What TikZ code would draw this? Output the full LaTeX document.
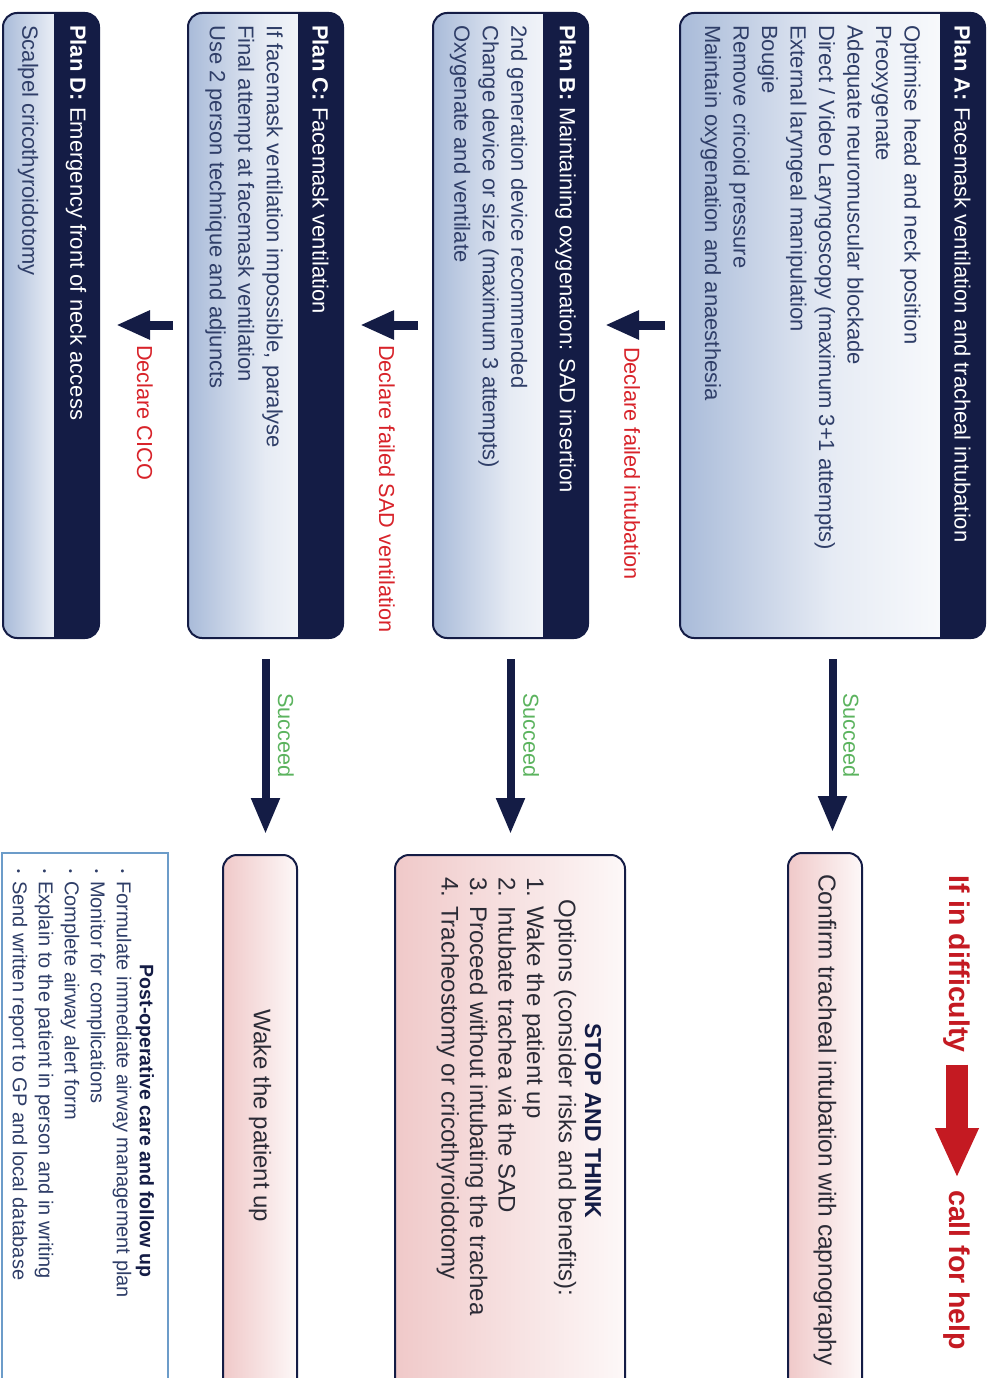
\documentclass[tikz,border=0pt]{standalone}
\usepackage{fontspec}
\setmainfont{Liberation Sans}
\usetikzlibrary{arrows.meta}
\definecolor{navy}{HTML}{141C45}
\definecolor{planblue}{HTML}{A9BBD9}
\definecolor{planmid}{HTML}{E6EBF4}
\definecolor{plantxt}{HTML}{2F3E68}
\definecolor{pinkL}{HTML}{F0C9C9}
\definecolor{pinkR}{HTML}{FDF8F8}
\definecolor{boxtxt}{HTML}{2B2B36}
\definecolor{failred}{HTML}{D8232A}
\definecolor{helpred}{HTML}{C41A22}
\definecolor{succgreen}{HTML}{5BB35E}
\definecolor{poborder}{HTML}{6C9CC9}
\tikzset{
  planframe/.style={draw=navy, line width=2pt, rounded corners=14pt, inner sep=0pt,
    path picture={
      \shade[sharp corners, left color=planblue, right color=white, middle color=planmid]
        (path picture bounding box.south west) rectangle ([xshift=-45pt]path picture bounding box.north east);
      \fill[sharp corners, navy] ([xshift=-45pt]path picture bounding box.south east) rectangle (path picture bounding box.north east);
    }},
  pinkframe/.style={draw=navy, line width=2pt, rounded corners=14pt, inner sep=0pt, left color=pinkL, right color=pinkR},
  poframe/.style={draw=poborder, line width=1.5pt, fill=white, inner sep=0pt},
  vtext/.style={rotate=-90, inner sep=0pt, anchor=west},
  hdr/.style={vtext, text=white, font=\fontsize{22}{26}\selectfont},
  plantext/.style={vtext, text=plantxt, align=left, font=\fontsize{22}{28.5}\selectfont},
  faillab/.style={vtext, text=failred, font=\fontsize{21.7}{26}\selectfont},
  succlab/.style={vtext, text=succgreen, font=\fontsize{21.7}{26}\selectfont},
  helptxt/.style={vtext, text=helpred, font=\bfseries\fontsize{28.5}{32}\selectfont},
  boxtext/.style={rotate=-90, inner sep=0pt, text=boxtxt, font=\fontsize{24}{28.5}\selectfont},
  stoptitle/.style={rotate=-90, inner sep=0pt, text=navy, font=\bfseries\fontsize{23}{26}\selectfont},
  potitle/.style={rotate=-90, inner sep=0pt, text=navy, font=\bfseries\fontsize{19.5}{22}\selectfont},
  poitems/.style={vtext, text=plantxt, align=left, font=\fontsize{20}{26}\selectfont},
  failarr/.style={navy, line width=9pt, -{Triangle[width=27pt,length=34pt]}, shorten <=14pt, shorten >=16pt},
  succarr/.style={navy, line width=8pt, -{Triangle[width=27pt,length=36pt]}, shorten <=20pt, shorten >=20pt},
  helparr/.style={helpred, line width=22pt, -{Triangle[width=40pt,length=50pt]}, shorten <=12pt, shorten >=12pt},
}
\newcommand\pobul{{\raisebox{2pt}{\fontsize{11}{11}\selectfont\textbullet}}\hspace{8pt}}
\begin{document}
\begin{tikzpicture}[x=1pt,y=1pt]
\useasboundingbox (0,0) rectangle (992,-1378);
\clip (0,0) rectangle (992,-1378);
\fill[white] (0,0) rectangle (992,-1378);

% Plan boxes
\node[planframe, minimum width=305pt, minimum height=625pt] (PA) at (832.5,-325.5) {};
\node[hdr] (PAh) at (962.5,-25) {\textbf{Plan A:} Facemask ventilation and tracheal intubation};
\node[plantext] (PAb) at (810.5,-25) {Optimise head and neck position\\Preoxygenate\\Adequate neuromuscular blockade\\Direct / Video Laryngoscopy (maximum 3+1 attempts)\\External laryngeal manipulation\\Bougie\\Remove cricoid pressure\\Maintain oxygenation and anaesthesia};

\node[planframe, minimum width=155pt, minimum height=625pt] (PB) at (510.5,-325.5) {};
\node[hdr] (PBh) at (565.5,-25) {\textbf{Plan B:} Maintaining oxygenation: SAD insertion};
\node[plantext] (PBb) at (488.5,-25) {2nd generation device recommended\\Change device or size (maximum 3 attempts)\\Oxygenate and ventilate};

\node[planframe, minimum width=155pt, minimum height=625pt] (PC) at (265.5,-325.5) {};
\node[hdr] (PCh) at (320.5,-25) {\textbf{Plan C:} Facemask ventilation};
\node[plantext] (PCb) at (244,-25) {If facemask ventilation impossible, paralyse\\Final attempt at facemask ventilation\\Use 2 person technique and adjuncts};

\node[planframe, minimum width=96pt, minimum height=625pt] (PD) at (51,-325.5) {};
\node[hdr] (PDh) at (76,-25) {\textbf{Plan D:} Emergency front of neck access};
\node[plantext] (PDb) at (28,-25) {Scalpel cricothyroidotomy};

% failure arrows
\coordinate (fy) at (0,-325);
\draw[failarr] (PA.west |- fy) -- (PB.east |- fy);
\node[faillab] (L1) at (632,-347) {Declare failed intubation};
\draw[failarr] (PB.west |- fy) -- (PC.east |- fy);
\node[faillab] (L2) at (387,-345) {Declare failed SAD ventilation};
\draw[failarr] (PC.west |- fy) -- (PD.east |- fy);
\node[faillab] (L3) at (145,-345) {Declare CICO};

% right column
\node[pinkframe, minimum width=74pt, minimum height=547pt] (CF) at (825,-1126.5) {};
\node[boxtext, font=\fontsize{24.5}{28.5}\selectfont] (CFt) at (825,-1120) {Confirm tracheal intubation with capnography};

\node[pinkframe, minimum width=230pt, minimum height=545pt] (ST) at (510,-1127.5) {};
\node[stoptitle] (STt) at (593,-1121) {STOP AND THINK};
\node[boxtext] (STo) at (565,-1098) {Options (consider risks and benefits):};
\node[boxtext, anchor=west, align=left] (STl) at (490.5,-877) {1. Wake the patient up\\2. Intubate trachea via the SAD\\3. Proceed without intubating the trachea\\4. Tracheostomy or cricothyroidotomy};

\node[pinkframe, minimum width=74pt, minimum height=545pt] (WK) at (260,-1127.5) {};
\node[boxtext] (WKt) at (260,-1116) {Wake the patient up};

\node[poframe, minimum width=166pt, minimum height=547pt] (PO) at (85,-1126.5) {};
\node[potitle] (POt) at (145,-1121) {Post-operative care and follow up};
\node[poitems] (POi) at (70,-869) {\pobul Formulate immediate airway management plan\\\pobul Monitor for complications\\\pobul Complete airway alert form\\\pobul Explain to the patient in person and in writing\\\pobul Send written report to GP and local database};

% succeed arrows
\draw[succarr] (PA.south) -- (PA.south |- CF.north);
\node[succlab] (S1) at (851,-693) {Succeed};
\draw[succarr] (PB.south) -- (PB.south |- ST.north);
\node[succlab] (S2) at (531,-693) {Succeed};
\draw[succarr] (PC.south) -- (PC.south |- WK.north);
\node[succlab] (S3) at (286,-693) {Succeed};

% call for help
\node[helptxt] (IF) at (957,-875) {If in difficulty};
\node[helptxt] (CH) at (957,-1190) {call for help};
\draw[helparr] (IF.east) -- (CH.west);
\end{tikzpicture}
\end{document}
